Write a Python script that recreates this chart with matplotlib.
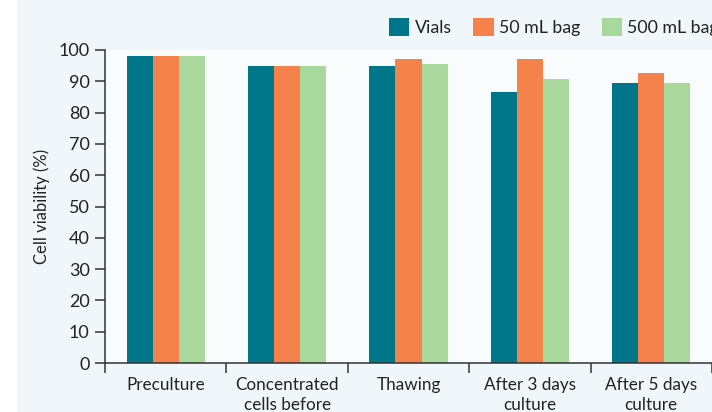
import matplotlib
matplotlib.use("Agg")
import matplotlib.pyplot as plt
from matplotlib.patches import Rectangle
import numpy as np

categories = ["Preculture", "Concentrated\ncells before", "Thawing",
              "After 3 days\nculture", "After 5 days\nculture"]
series_names = ["Vials", "50 mL bag", "500 mL bag"]
vials = [98, 95, 95, 86.6, 89.5]
bag50 = [98, 95, 97.1, 97.1, 92.7]
bag500 = [98, 95, 95.5, 90.7, 89.5]
yticks = [0, 10, 20, 30, 40, 50, 60, 70, 80, 90, 100]

colors = ["#00768a", "#f4824a", "#a8d89c"]

plt.rcParams['font.family'] = ['Lato', 'DejaVu Sans']

fig = plt.figure(figsize=(7.12, 4.12), dpi=100, facecolor="white")
fig.patches.append(Rectangle((17/712, 0), 1, 1, transform=fig.transFigure,
                             facecolor="#eff7fa", edgecolor="none", zorder=-10))

ax = fig.add_axes([105/712, 1 - 363/412, 1 - 105/712, (363 - 50)/412])
ax.set_facecolor("#f8fcfd")

x = np.arange(len(categories))
w = 0.215
for i, (vals, name) in enumerate(zip([vials, bag50, bag500], series_names)):
    ax.bar(x + (i - 1) * w, vals, width=w, color=colors[i], label=name,
           edgecolor="none", zorder=2)

ax.set_xlim(-0.5, 4.5)
ax.set_ylim(0, 100)
ax.set_yticks(yticks)
ax.set_xticks(x)
ax.set_xticklabels(categories, fontsize=12.3, color="#222222", linespacing=1.3)
ax.set_xticks(np.arange(-0.5, 4.6, 1.0), minor=True)
ax.tick_params(axis="x", which="major", length=0, pad=10)
ax.tick_params(axis="x", which="minor", length=7, width=1.1, color="#333333", direction="out")
ax.tick_params(axis="y", length=7, width=1.1, color="#333333", labelsize=13,
               labelcolor="#222222", pad=4)
for s in ["top", "right"]:
    ax.spines[s].set_visible(False)
for s in ["left", "bottom"]:
    ax.spines[s].set_color("#333333")
    ax.spines[s].set_linewidth(1.1)

ax.set_ylabel("Cell viability (%)", fontsize=12, color="#222222", labelpad=6)

leg = fig.legend(loc="center left", bbox_to_anchor=(389/712, 1 - 27/412), ncol=3,
                 frameon=False, fontsize=12.8, handlelength=1.15, handleheight=1.15,
                 handletextpad=0.3, columnspacing=1.2, borderaxespad=0,
                 borderpad=0)
for t in leg.get_texts():
    t.set_color("#222222")

fig.savefig("out.png", dpi=100, facecolor=fig.get_facecolor())
